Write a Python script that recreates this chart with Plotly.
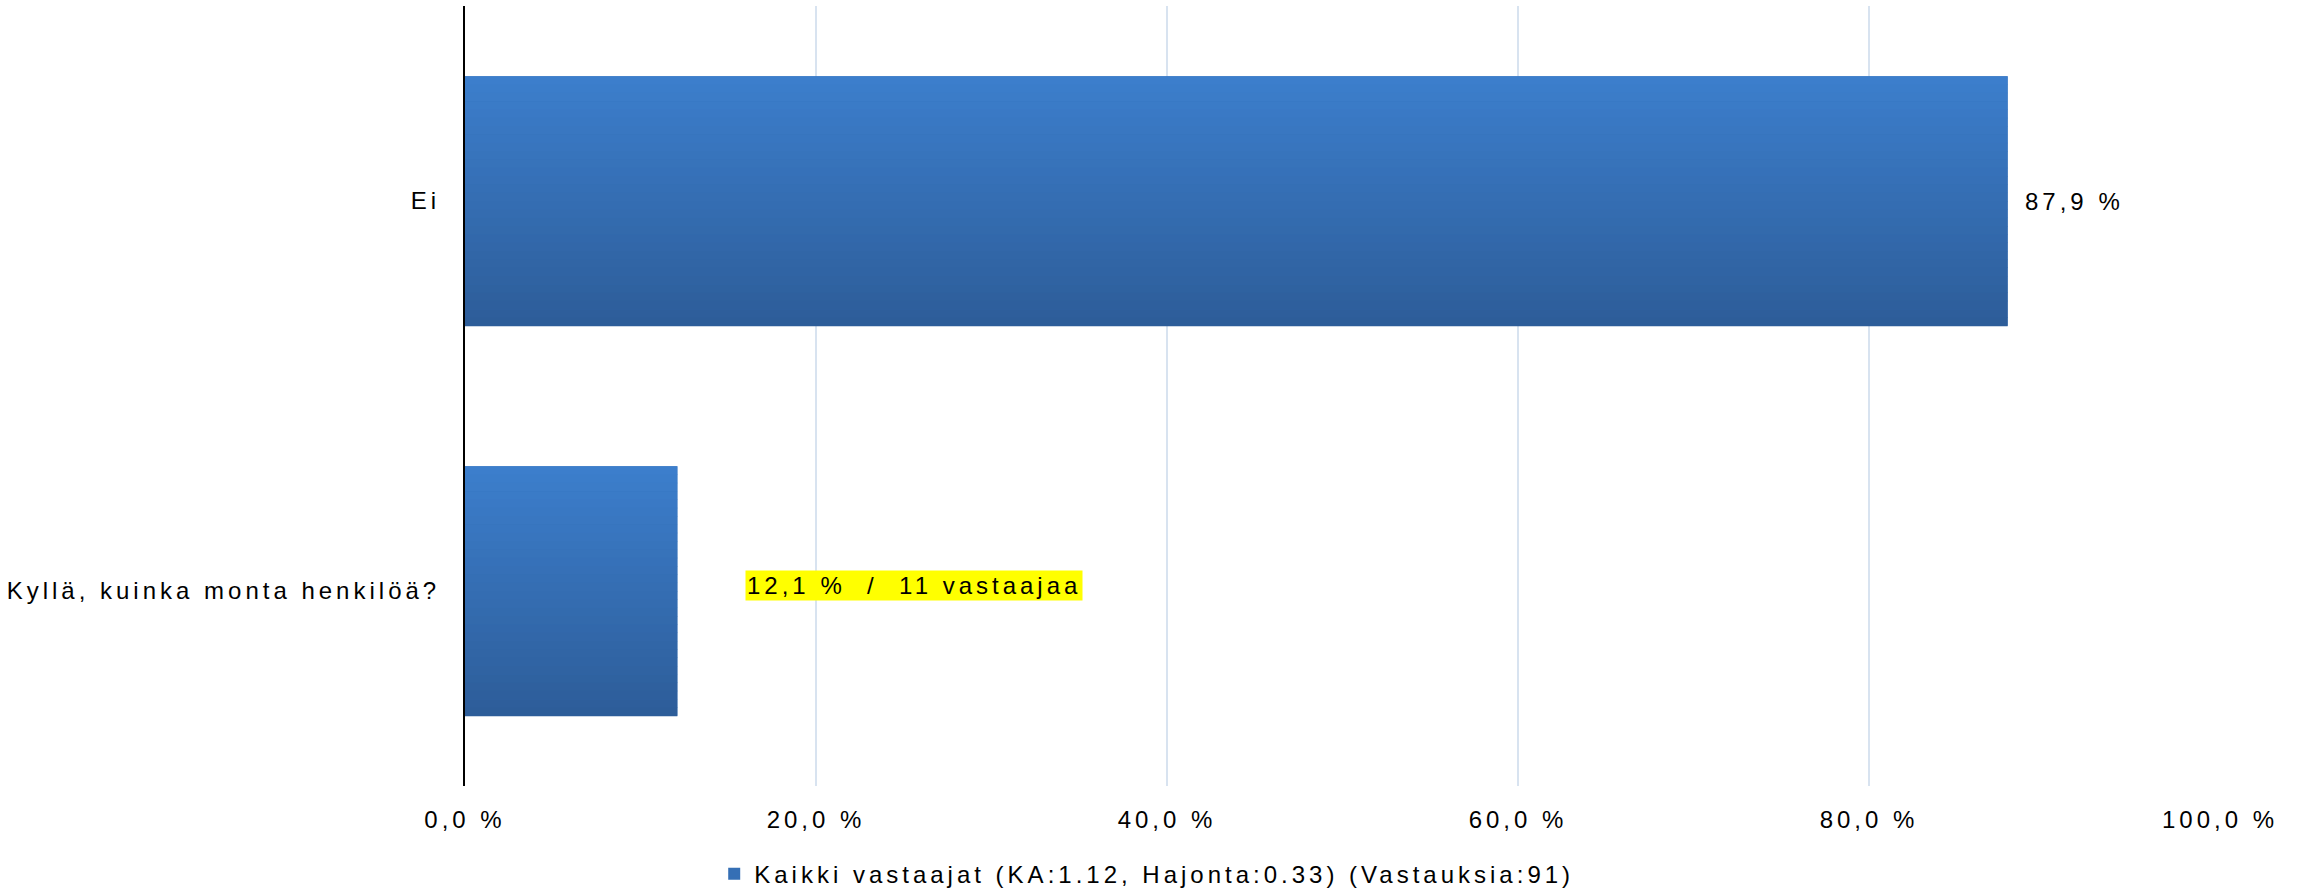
import plotly.graph_objects as go

# ---- data ----
categories = ["Ei", "Kyllä, kuinka monta henkilöä?"]
percents = [87.9, 12.1]
counts = [80, 11]
series_name = "Kaikki vastaajat (KA:1.12, Hajonta:0.33) (Vastauksia:91)"
tick_values = [0, 20, 40, 60, 80, 100]
tick_labels = ["0,0 %", "20,0 %", "40,0 %", "60,0 %", "80,0 %", "100,0 %"]

TOP_COLOR = (60, 126, 204)
BOTTOM_COLOR = (45, 93, 153)
FONT = "Liberation Sans, Arial, sans-serif"
BAR_WIDTH = 0.64
N_STRIPS = 30


def fmt_pct(v):
    return f"{v:.1f} %".replace(".", ",")


def mix(t):
    r, g, b = (round(a + (b_ - a) * t) for a, b_ in zip(TOP_COLOR, BOTTOM_COLOR))
    return f"rgb({r},{g},{b})"


fig = go.Figure()
# main series (legend entry)
fig.add_trace(go.Bar(
    y=categories, x=percents, orientation="h", name=series_name,
    width=BAR_WIDTH, marker=dict(color=mix(0.45), line=dict(width=0)),
    showlegend=True, hoverinfo="skip",
))
# vertical gradient shading of the same bars
strip_w = BAR_WIDTH / N_STRIPS
for k in range(N_STRIPS):
    fig.add_trace(go.Bar(
        y=categories, x=percents, orientation="h",
        width=strip_w * 1.05, offset=-BAR_WIDTH / 2 + k * strip_w,
        marker=dict(color=mix(k / (N_STRIPS - 1)), line=dict(width=0)),
        showlegend=False, hoverinfo="skip",
    ))

# value label for "Ei"
fig.add_annotation(
    x=percents[0], y=categories[0], xref="x", yref="y",
    text=fmt_pct(percents[0]), showarrow=False,
    xanchor="left", yanchor="middle", xshift=15,
)
# highlighted label for "Kyllä"
fig.add_annotation(
    x=percents[1], y=categories[1], xref="x", yref="y",
    text=f"{fmt_pct(percents[1])}\u00a0\u00a0/\u00a0\u00a0{counts[1]} vastaajaa",
    showarrow=False, xanchor="left", yanchor="middle",
    xshift=68, yshift=6, bgcolor="#FFFF00", borderpad=1,
)

fig.update_layout(
    width=2308, height=891,
    margin=dict(l=465, r=88, t=6, b=105, autoexpand=False),
    paper_bgcolor="white", plot_bgcolor="white",
    font=dict(family=FONT, size=24, color="#010101"),
    barmode="overlay",
    showlegend=True,
    legend=dict(
        orientation="h", x=0.142, xanchor="left", y=-0.113, yanchor="middle",
        bgcolor="rgba(0,0,0,0)", itemwidth=30,
    ),
    xaxis=dict(
        range=[0, 100], tickvals=tick_values, ticktext=tick_labels,
        showgrid=True, gridcolor="#D8E3F0", gridwidth=1.5,
        zeroline=False, showline=False, ticks="", ticklabelstandoff=17,
        automargin=False, fixedrange=True,
    ),
    yaxis=dict(
        autorange="reversed", showgrid=False, zeroline=False,
        showline=True, linecolor="black", linewidth=2,
        ticks="", ticklabelstandoff=18, automargin=False, fixedrange=True,
    ),
)

post = """
var gd = document.getElementById('{plot_id}');
var st = document.createElement('style');
st.textContent = 'html, body { margin: 0 !important; padding: 0 !important; overflow: hidden; } svg text { letter-spacing: 4px !important; }';
document.head.appendChild(st);
Plotly.relayout(gd, {'font.color': '#000000'});
"""

fig.write_html("out.html", config={"displayModeBar": False}, post_script=post)
